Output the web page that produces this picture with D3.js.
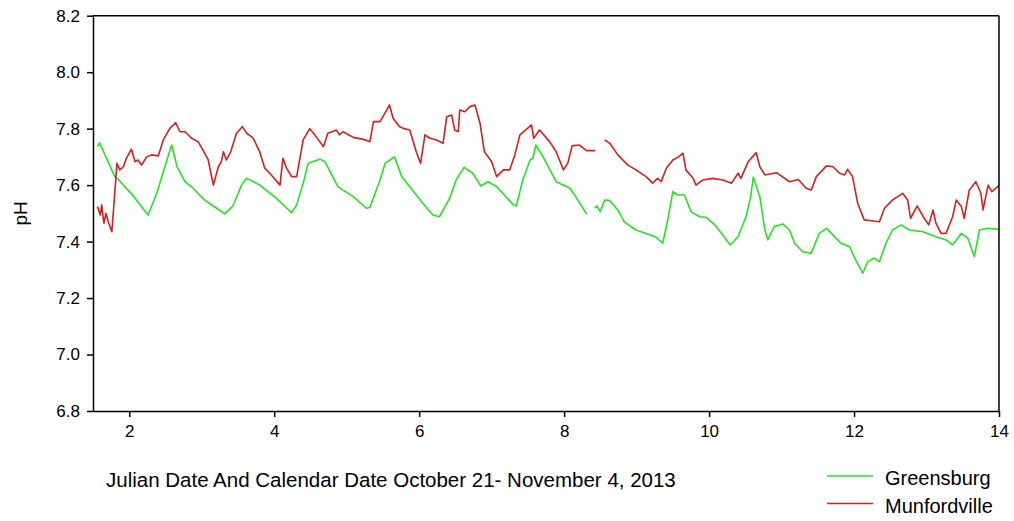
<!DOCTYPE html>
<html>
<head>
<meta charset="utf-8">
<script src="https://cdn.jsdelivr.net/npm/d3@7"></script>
<style>
    body { margin: 0; background: #fff; }
    text { font-family: Arial, "Liberation Sans", sans-serif; fill: #000; }
</style>
</head>
<body>
<div id="chart"></div>
<script>
// x ticks and y ticks
const xTicks = [2, 4, 6, 8, 10, 12, 14];
const yTicks = [6.8, 7.0, 7.2, 7.4, 7.6, 7.8, 8.0, 8.2];

// Greensburg (null = gap in record)
const greensburgDay = [1.56, 1.59, 1.80, 1.85, 2.06, 2.26, 2.38, 2.52, 2.585, 2.66, 2.77, 2.88, 3.04, 3.16, 3.32, 3.43, 3.55, 3.62, 3.80, 4.03,
    4.24, 4.31, 4.40, 4.47, 4.63, 4.70, 4.88, 5.09, 5.27, 5.32, 5.46, 5.53, 5.66, 5.76, 5.87, 6.05, 6.19, 6.28, 6.42, 6.51,
    6.62, 6.74, 6.85, 6.95, 7.07, 7.30, 7.34, 7.43, 7.53, 7.57, 7.61, 7.71, 7.89, 8.08, 8.19, 8.31, 8.36, 8.42, 8.45, 8.50,
    8.56, 8.63, 8.74, 8.83, 8.99, 9.13, 9.27, 9.36, 9.43, 9.50, 9.56, 9.66, 9.75, 9.87, 9.96, 10.08, 10.19, 10.29, 10.40, 10.51,
    10.57, 10.61, 10.70, 10.77, 10.81, 10.90, 11.02, 11.11, 11.18, 11.29, 11.41, 11.52, 11.62, 11.71, 11.82, 11.94, 12.01, 12.12, 12.19, 12.28,
    12.35, 12.44, 12.53, 12.65, 12.76, 12.95, 13.13, 13.27, 13.36, 13.48, 13.57, 13.66, 13.73, 13.84, 13.98, 14.0];
const greensburgPH = [7.736, 7.75, 7.63, 7.62, 7.56, 7.494, 7.571, 7.689, 7.742, 7.665, 7.612, 7.589, 7.547, 7.526, 7.498, 7.526, 7.60, 7.624, 7.60, 7.553,
    7.502, 7.53, 7.607, 7.677, 7.692, 7.683, 7.594, 7.559, 7.518, 7.521, 7.618, 7.677, 7.70, 7.63, 7.594, 7.536, 7.494, 7.488, 7.553, 7.618,
    7.663, 7.642, 7.597, 7.612, 7.594, 7.53, 7.526, 7.618, 7.689, 7.695, 7.742, 7.70, 7.612, 7.589, 7.547, 7.497, null, 7.518, 7.526, 7.506,
    7.547, 7.545, 7.512, 7.47, 7.441, 7.429, 7.415, 7.394, 7.477, 7.577, 7.565, 7.565, 7.506, 7.488, 7.486, 7.459, 7.423, 7.388, 7.417, 7.488,
    7.553, 7.628, 7.559, 7.441, 7.406, 7.453, 7.462, 7.441, 7.394, 7.364, 7.359, 7.429, 7.447, 7.423, 7.394, 7.382, 7.341, 7.288, 7.329, 7.341,
    7.329, 7.394, 7.441, 7.459, 7.441, 7.435, 7.417, 7.406, 7.388, 7.429, 7.412, 7.347, 7.441, 7.447, 7.444, 7.44];

// Munfordville (null = gap in record)
const munfordvilleDay = [1.56, 1.60, 1.62, 1.65, 1.68, 1.71, 1.76, 1.80, 1.83, 1.87, 1.92, 1.96, 2.03, 2.08, 2.12, 2.17, 2.24, 2.31, 2.40, 2.47,
    2.56, 2.64, 2.70, 2.77, 2.86, 2.95, 3.04, 3.09, 3.16, 3.23, 3.27, 3.30, 3.34, 3.40, 3.48, 3.56, 3.62, 3.71, 3.80, 3.87,
    3.96, 4.08, 4.12, 4.17, 4.24, 4.31, 4.40, 4.49, 4.56, 4.68, 4.74, 4.86, 4.90, 4.95, 5.09, 5.23, 5.32, 5.37, 5.46, 5.54,
    5.59, 5.64, 5.73, 5.78, 5.87, 5.96, 6.02, 6.08, 6.15, 6.24, 6.33, 6.38, 6.45, 6.49, 6.54, 6.56, 6.63, 6.70, 6.77, 6.84,
    6.90, 7.00, 7.07, 7.16, 7.25, 7.32, 7.39, 7.55, 7.58, 7.66, 7.80, 7.89, 7.99, 8.05, 8.11, 8.21, 8.31, 8.43, 8.50, 8.56,
    8.63, 8.74, 8.88, 8.99, 9.13, 9.22, 9.29, 9.34, 9.41, 9.50, 9.58, 9.64, 9.68, 9.78, 9.82, 9.91, 10.05, 10.19, 10.31, 10.40,
    10.44, 10.54, 10.65, 10.70, 10.77, 10.93, 11.11, 11.23, 11.34, 11.41, 11.48, 11.62, 11.71, 11.80, 11.87, 11.91, 11.98, 12.05, 12.14, 12.24,
    12.35, 12.42, 12.53, 12.67, 12.74, 12.78, 12.87, 12.97, 13.03, 13.09, 13.13, 13.20, 13.27, 13.36, 13.41, 13.48, 13.52, 13.59, 13.68, 13.75,
    13.78, 13.85, 13.90, 13.98, 14.0];
const munfordvillePH = [7.524, 7.494, 7.53, 7.465, 7.50, 7.47, 7.435, 7.571, 7.677, 7.654, 7.665, 7.695, 7.727, 7.683, 7.689, 7.671, 7.70, 7.707, 7.703, 7.76,
    7.801, 7.821, 7.789, 7.789, 7.766, 7.754, 7.713, 7.689, 7.60, 7.665, 7.683, 7.718, 7.689, 7.718, 7.784, 7.807, 7.784, 7.766, 7.718, 7.66,
    7.636, 7.60, 7.695, 7.66, 7.63, 7.63, 7.76, 7.80, 7.778, 7.736, 7.784, 7.795, 7.778, 7.789, 7.769, 7.762, 7.754, 7.825, 7.825, 7.86,
    7.884, 7.837, 7.807, 7.801, 7.795, 7.718, 7.677, 7.778, 7.766, 7.76, 7.748, 7.842, 7.848, 7.795, 7.789, 7.866, 7.86, 7.878, 7.884, 7.819,
    7.718, 7.683, 7.63, 7.654, 7.654, 7.707, 7.778, 7.813, 7.766, 7.795, 7.754, 7.718, 7.654, 7.677, 7.739, 7.742, 7.722, 7.722, null, 7.76,
    7.748, 7.707, 7.671, 7.654, 7.63, 7.607, 7.624, 7.612, 7.66, 7.689, 7.70, 7.713, 7.654, 7.624, 7.60, 7.618, 7.624, 7.618, 7.607, 7.642,
    7.624, 7.683, 7.715, 7.665, 7.636, 7.644, 7.612, 7.62, 7.589, 7.583, 7.63, 7.668, 7.665, 7.642, 7.636, 7.656, 7.63, 7.536, 7.477, 7.474,
    7.47, 7.518, 7.547, 7.571, 7.547, 7.482, 7.526, 7.482, 7.459, 7.512, 7.465, 7.429, 7.429, 7.488, 7.547, 7.524, 7.482, 7.583, 7.612, 7.571,
    7.512, 7.60, 7.577, 7.594, 7.60];

const seriesNames = ['Greensburg', 'Munfordville'];
const seriesColors = ['#22e422', '#d81e1e'];

document.addEventListener('DOMContentLoaded', () => {
    const width = 1014;
    const height = 521;
    const margin = { top: 15.7, right: 15, bottom: 110, left: 93 };

    const svg = d3.select('#chart')
        .append('svg')
        .attr('width', width)
        .attr('height', height);

    const x = d3.scaleLinear()
        .domain([1.5, 14])
        .range([margin.left, width - margin.right]);

    const y = d3.scaleLinear()
        .domain([6.8, 8.2])
        .range([height - margin.bottom, margin.top]);

    // Build the point lists for both stations
    const greensburg = greensburgDay.map((d, i) => ({ day: d, ph: greensburgPH[i] }));
    const munfordville = munfordvilleDay.map((d, i) => ({ day: d, ph: munfordvillePH[i] }));

    const line = d3.line()
        .defined(d => d.ph !== null)
        .x(d => x(d.day))
        .y(d => y(d.ph));

    [greensburg, munfordville].forEach((data, i) => {
        svg.append('path')
            .datum(data)
            .attr('fill', 'none')
            .attr('stroke', seriesColors[i])
            .attr('stroke-width', 1.6)
            .attr('stroke-linejoin', 'round')
            .attr('d', line);
    });

    // Frame: top and right borders
    svg.append('line')
        .attr('x1', x(1.5)).attr('x2', x(14))
        .attr('y1', y(8.2)).attr('y2', y(8.2))
        .attr('stroke', '#000').attr('stroke-width', 1.5);
    svg.append('line')
        .attr('x1', x(14)).attr('x2', x(14))
        .attr('y1', y(8.2)).attr('y2', y(6.8))
        .attr('stroke', '#000').attr('stroke-width', 1.5);

    // Axes
    const xAxis = svg.append('g')
        .attr('transform', `translate(0,${y(6.8)})`)
        .call(d3.axisBottom(x).tickValues(xTicks).tickSize(6).tickPadding(8).tickSizeOuter(0));

    const yAxis = svg.append('g')
        .attr('transform', `translate(${x(1.5)},0)`)
        .call(d3.axisLeft(y).tickValues(yTicks).tickFormat(d3.format('.1f')).tickSize(6).tickPadding(7).tickSizeOuter(0));

    [xAxis, yAxis].forEach(g => {
        g.select('.domain').attr('stroke', '#000').attr('stroke-width', 1.5);
        g.selectAll('.tick line').attr('stroke', '#000').attr('stroke-width', 1.5);
        g.selectAll('.tick text')
            .attr('fill', '#000')
            .style('font-family', 'Arial, "Liberation Sans", sans-serif')
            .style('font-size', '17px');
    });

    // Axis titles
    svg.append('text')
        .attr('transform', `translate(27,${(y(6.8) + y(8.2)) / 2}) rotate(-90)`)
        .attr('text-anchor', 'middle')
        .style('font-size', '19px')
        .text('pH');

    svg.append('text')
        .attr('x', 106)
        .attr('y', 487)
        .style('font-size', '20.5px')
        .text('Julian Date And Calendar Date October 21- November 4, 2013');

    // Legend
    const legend = svg.append('g');
    seriesNames.forEach((name, i) => {
        const ly = 476 + i * 27.5;
        legend.append('line')
            .attr('x1', 827).attr('x2', 873)
            .attr('y1', ly).attr('y2', ly)
            .attr('stroke', seriesColors[i])
            .attr('stroke-width', 1.5);
        legend.append('text')
            .attr('x', 885)
            .attr('y', ly + 9)
            .style('font-size', '20px')
            .text(name);
    });
});
</script>
</body>
</html>
